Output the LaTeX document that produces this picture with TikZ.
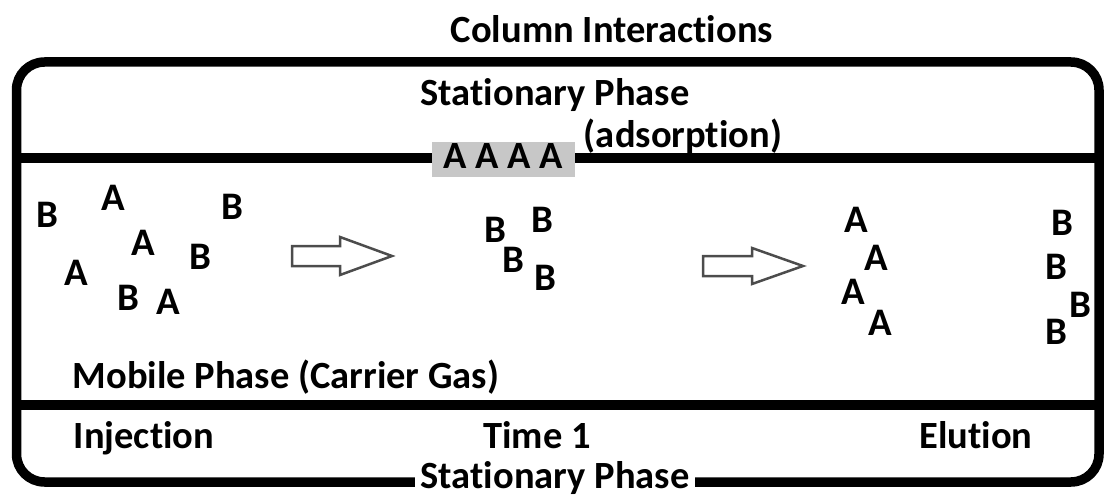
\documentclass[tikz,border=0pt]{standalone}
\usepackage{fontspec}
\setmainfont{Carlito}[BoldFont={Carlito Bold}, Ligatures=NoCommon]
\begin{document}
\begin{tikzpicture}[x=1pt,y=-1pt,
  lbl/.style={inner sep=0pt, anchor=base, font=\fontsize{38.5}{42}\selectfont\bfseries},
  mol/.style={inner sep=0pt, anchor=center, font=\fontsize{39}{42}\selectfont\bfseries},
  wall/.style={line width=9.5pt, black},
  flow/.style={draw=black!70, line width=2.5pt, fill=white, line join=miter}]
\useasboundingbox (0,0) rectangle (1105,497);

% column outline and phase boundaries
\draw[wall, rounded corners=28pt] (16.5,62) rectangle (1099,482);
\coordinate (upL) at (16.5,158);
\coordinate (upR) at (1099,158);
\coordinate (loL) at (16.5,405);
\coordinate (loR) at (1099,405);
\draw[wall] (upL) -- (upR);
\draw[wall] (loL) -- (loR);

% titles and phase labels
\node[lbl] (title) at (612,43) {Column Interactions};
\node[lbl] (statTop) at (555,106) {Stationary Phase};
\node[lbl] (adsorb) at (683,148) {(adsorption)};
\node[lbl] (mobile) at (286,388) {Mobile Phase (Carrier Gas)};
\node[lbl] (inj) at (144,448) {Injection};
\node[lbl] (t1) at (537,448) {Time 1};
\node[lbl] (elu) at (976,448) {Elution};
\node[lbl, fill=white, inner xsep=6pt, inner ysep=2pt] (statBot) at (555,488) {Stationary Phase};

% adsorbed A molecules on the stationary phase
\fill[black!22] (432,142) rectangle (575,177);
\node[lbl] (ads) at (503,169) {A A A A};

% injection: mixed sample
\node[mol] (i1) at (47,215) {B};
\node[mol] (i2) at (113,198) {A};
\node[mol] (i3) at (232,207) {B};
\node[mol] (i4) at (143,243) {A};
\node[mol] (i5) at (200,257) {B};
\node[mol] (i6) at (76,273) {A};
\node[mol] (i7) at (128,298) {B};
\node[mol] (i8) at (168,302) {A};

% time 1: B moves ahead
\node[mol] (m1) at (495,230) {B};
\node[mol] (m2) at (542,220) {B};
\node[mol] (m3) at (513,260) {B};
\node[mol] (m4) at (545,278) {B};

% elution: separated bands
\node[mol] (e1) at (856,220) {A};
\node[mol] (e2) at (876,258) {A};
\node[mol] (e3) at (853,292) {A};
\node[mol] (e4) at (880,323) {A};
\node[mol] (e5) at (1062,223) {B};
\node[mol] (e6) at (1056,267) {B};
\node[mol] (e7) at (1080,305) {B};
\node[mol] (e8) at (1056,332) {B};

% flow arrows
\draw[flow] (292,246) -- (340,246) -- (340,237) -- (392,256) -- (340,275) -- (340,266) -- (292,266) -- cycle;
\draw[flow] (703,256) -- (752,256) -- (752,248) -- (803,266) -- (752,284) -- (752,276) -- (703,276) -- cycle;
\end{tikzpicture}
\end{document}
